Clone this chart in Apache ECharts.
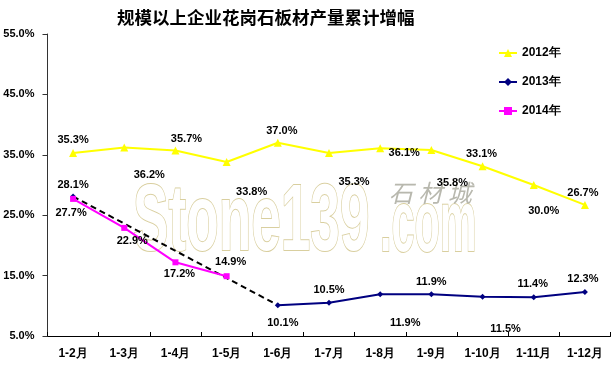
<!DOCTYPE html>
<html><head><meta charset="utf-8">
<script src="https://cdn.jsdelivr.net/npm/echarts@6/dist/echarts.min.js"></script>
<style>html,body{margin:0;padding:0;background:#fff}#c{width:611px;height:372px}</style>
</head><body><div id="c"></div>
<script>
const categories = ['1-2月','1-3月','1-4月','1-5月','1-6月','1-7月','1-8月','1-9月','1-10月','1-11月','1-12月'];
const yTicks = [5, 15, 25, 35, 45, 55];
const v2012 = [35.3, 36.2, 35.7, 33.8, 37.0, 35.3, 36.1, 35.8, 33.1, 30.0, 26.7];
const v2013 = [28.1, '-', '-', '-', 10.1, 10.5, 11.9, 11.9, 11.5, 11.4, 12.3];
const v2014 = [27.7, 22.9, 17.2, 14.9];
const gap2013 = [28.1, '-', '-', '-', 10.1];

// label offsets (pixels, relative to point centre)
const off2012 = [[0,-13],[25,27],[11,-12],[25,30],[4,-12],[25,29],[24,5],[21,33],[-1,-12],[10,26],[-2,-12]];
const off2013 = [[0,-12],null,null,null,[5,18],[0,-13],[25,29],[0,-12],[23,32],[-1,-13],[-2,-13]];
const off2014 = [[-2,14],[8,13],[4,12],[4,-14]];

const labelBase = {show:true, position:'inside', fontFamily:'Liberation Sans, Arial', fontWeight:'bold', fontSize:11, color:'#000',
  formatter: p => Number(p.value).toFixed(1) + '%'};
function build(vals, offs){
  return vals.map((v,i) => {
    if (v === '-') return '-';
    return {value:v, label:Object.assign({}, labelBase, {offset: offs[i] || [0,-12]})};
  });
}
const wmStyle = {fill:'#ffffff', stroke:'#d9cf9f', lineWidth:2,
  shadowColor:'rgba(120,110,60,0.6)', shadowBlur:4, shadowOffsetX:2, shadowOffsetY:2};

const chart = echarts.init(document.getElementById('c'));
chart.setOption({
  animation:false,
  backgroundColor:'#fff',
  title:{text:'规模以上企业花岗石板材产量累计增幅', left:112, top:4,
    textStyle:{fontFamily:'Noto Sans CJK SC', fontWeight:'bold', fontSize:17.5, color:'#000'}},
  legend:{orient:'vertical', left:493, top:42, itemWidth:18, itemHeight:10, itemGap:17,
    textStyle:{fontFamily:'Liberation Sans, Arial', fontWeight:'bold', fontSize:12, color:'#000'},
    data:['2012年','2013年','2014年']},
  grid:{left:47.5, top:34, width:563, height:302},
  graphic:[
    {type:'text', x:133, y:271, scaleX:0.56, z:-1,
      style:Object.assign({text:'Stone139', font:'bold 95px "Liberation Sans"', verticalAlign:'bottom', align:'left'}, wmStyle)},
    {type:'text', x:380, y:271, scaleX:0.47, z:-1,
      style:Object.assign({text:'.com', font:'bold 88px "Liberation Sans"', verticalAlign:'bottom', align:'left'}, wmStyle)},
    {type:'text', x:389, y:193, z:-1,
      style:{text:'石 材 城', font:'italic 24px "Noto Sans CJK SC"', fill:'#b8b8ae', verticalAlign:'middle', align:'left'}}
  ],
  xAxis:{type:'category', data:categories, boundaryGap:true,
    axisLine:{lineStyle:{color:'#000', width:1}},
    axisTick:{show:true, inside:true, length:4, lineStyle:{color:'#000'}},
    axisLabel:{margin:12, fontFamily:'Liberation Sans, Arial', fontWeight:'bold', fontSize:12, color:'#000'}},
  yAxis:{type:'value', min:yTicks[0], max:yTicks[yTicks.length-1], interval:yTicks[1]-yTicks[0],
    splitLine:{show:false},
    axisLine:{show:true, lineStyle:{color:'#333', width:1}},
    axisTick:{show:true, length:5, lineStyle:{color:'#333'}},
    axisLabel:{margin:13, fontFamily:'Liberation Sans, Arial', fontWeight:'bold', fontSize:11, color:'#000',
      formatter: v => v.toFixed(1) + '%'}},
  series:[
    {name:'gap', type:'line', data:gap2013, connectNulls:true, showSymbol:false, symbol:'none', silent:true,
      lineStyle:{color:'#000', width:2, type:[6,4]}, z:1, label:{show:false}},
    {name:'2012年', type:'line', data:build(v2012, off2012), symbol:'triangle', symbolSize:8,
      itemStyle:{color:'#ffff00'}, lineStyle:{color:'#ffff00', width:2}, z:3},
    {name:'2013年', type:'line', data:build(v2013, off2013), symbol:'diamond', symbolSize:6, connectNulls:false,
      itemStyle:{color:'#000080'}, lineStyle:{color:'#000080', width:2}, z:3},
    {name:'2014年', type:'line', data:build(v2014, off2014), symbol:'rect', symbolSize:6,
      itemStyle:{color:'#ff00ff'}, lineStyle:{color:'#ff00ff', width:2}, z:4}
  ]
});
</script></body></html>
